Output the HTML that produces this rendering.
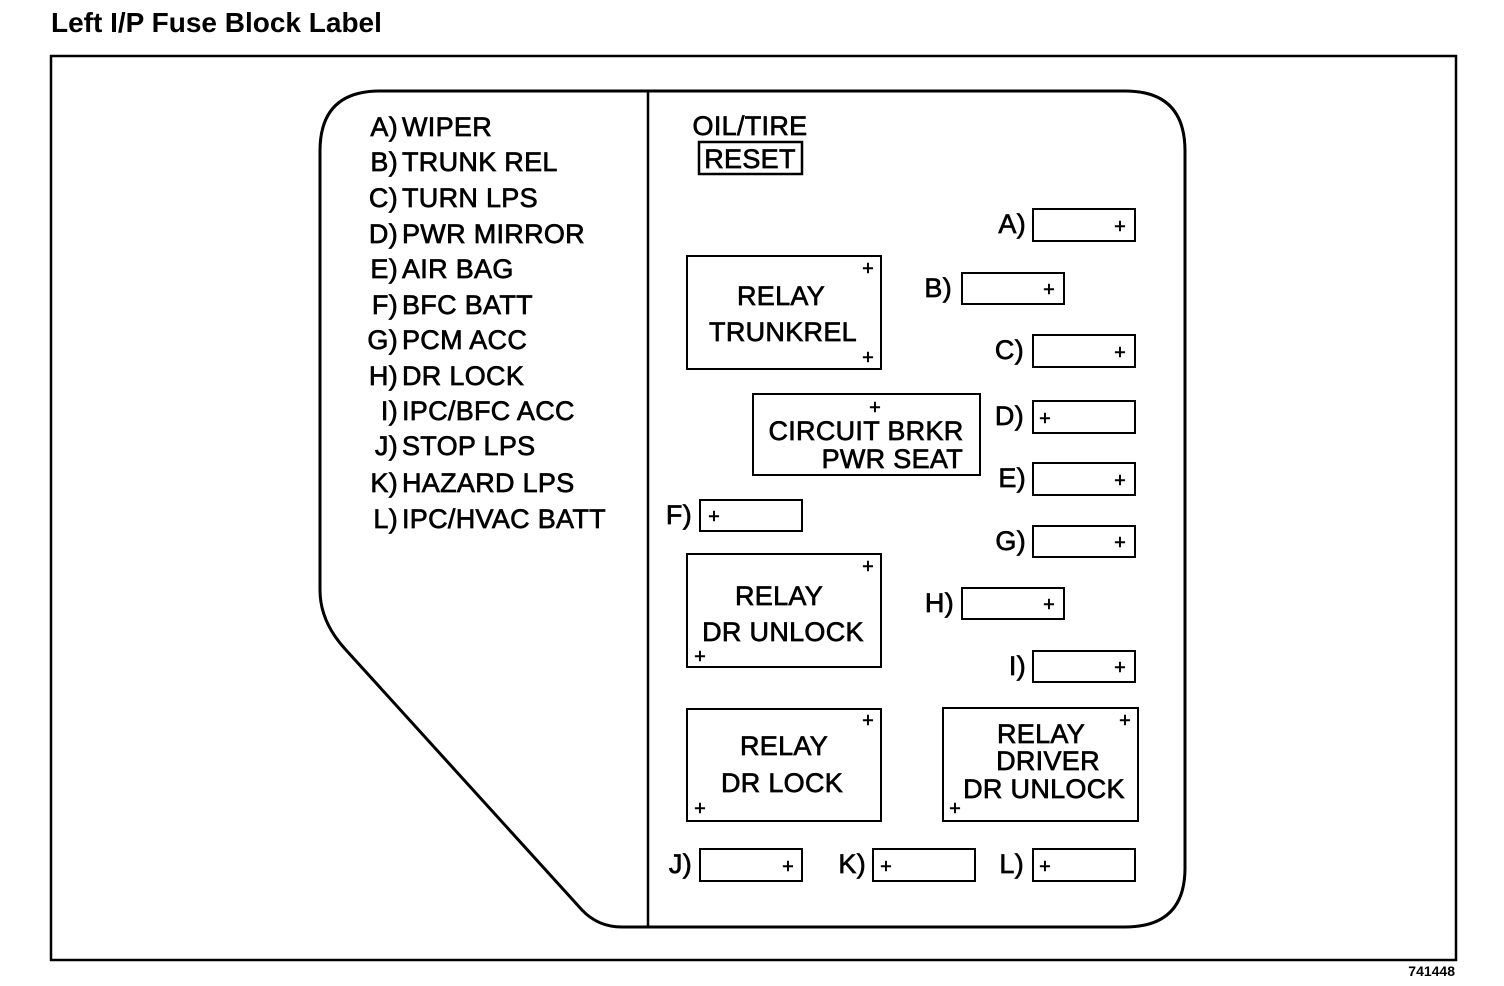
<!DOCTYPE html>
<html><head><meta charset="utf-8"><style>
html,body{margin:0;padding:0;background:#fff;}
svg{display:block;}
text{font-family:"Liberation Sans",Arial,sans-serif;fill:#000;}
.t{font-size:27px;stroke:#000;stroke-width:0.7px;letter-spacing:0.3px;}
.p{font-size:20px;stroke:#000;stroke-width:0.5px;}
</style></head><body>
<svg width="1504" height="986" viewBox="0 0 1504 986" xmlns="http://www.w3.org/2000/svg">
<text x="51" y="32" font-size="28" font-weight="bold">Left I/P Fuse Block Label</text>
<rect x="51" y="56" width="1405" height="904" fill="none" stroke="#000" stroke-width="2.5"/>
<path d="M380 91 L1125 91 Q1185 91 1185 151 L1185 868 Q1185 927 1125 927 L622 927 Q598 927 582 910 L346 650 Q320 622 320 590 L320 151 Q320 91 380 91 Z" fill="none" stroke="#000" stroke-width="3"/>
<line x1="648" y1="92" x2="648" y2="927" stroke="#000" stroke-width="2.5"/>
<g class="t" text-anchor="end">
<text x="398" y="136">A)</text><text x="398" y="171">B)</text><text x="398" y="207">C)</text><text x="398" y="243">D)</text><text x="398" y="278">E)</text><text x="398" y="314">F)</text><text x="398" y="349">G)</text><text x="398" y="385">H)</text><text x="398" y="420">I)</text><text x="398" y="455">J)</text><text x="398" y="492">K)</text><text x="398" y="528">L)</text>
</g>
<g class="t">
<text x="402" y="136">WIPER</text><text x="402" y="171">TRUNK REL</text><text x="402" y="207">TURN LPS</text><text x="402" y="243">PWR MIRROR</text><text x="402" y="278">AIR BAG</text><text x="402" y="314">BFC BATT</text><text x="402" y="349">PCM ACC</text><text x="402" y="385">DR LOCK</text><text x="402" y="420">IPC/BFC ACC</text><text x="402" y="455">STOP LPS</text><text x="402" y="492">HAZARD LPS</text><text x="402" y="528">IPC/HVAC BATT</text>
</g>
<text class="t" x="750" y="135" text-anchor="middle">OIL/TIRE</text>
<rect x="699" y="142" width="103" height="32" fill="none" stroke="#000" stroke-width="2.5"/>
<text class="t" x="750" y="168" text-anchor="middle">RESET</text>
<g fill="none" stroke="#000" stroke-width="2">
<rect x="1033" y="209" width="102" height="32"/>
<rect x="962" y="273" width="102" height="31"/>
<rect x="1033" y="335" width="102" height="32"/>
<rect x="1033" y="401" width="102" height="32"/>
<rect x="1033" y="463" width="102" height="32"/>
<rect x="1033" y="526" width="102" height="31"/>
<rect x="962" y="588" width="102" height="31"/>
<rect x="1033" y="651" width="102" height="31"/>
<rect x="700" y="500" width="102" height="31"/>
<rect x="700" y="849" width="102" height="32"/>
<rect x="873" y="849" width="102" height="32"/>
<rect x="1033" y="849" width="102" height="32"/>
<rect x="687" y="256" width="194" height="113"/>
<rect x="753" y="394" width="227" height="81"/>
<rect x="687" y="554" width="194" height="113"/>
<rect x="687" y="709" width="194" height="112"/>
<rect x="943" y="708" width="195" height="113"/>
</g>
<g class="p" text-anchor="middle">
<text x="1120" y="233">+</text><text x="1049" y="296">+</text><text x="1120" y="359">+</text><text x="1045" y="425">+</text><text x="1120" y="487">+</text><text x="1120" y="549">+</text><text x="1049" y="611">+</text><text x="1120" y="674">+</text>
<text x="714" y="523">+</text><text x="788" y="873">+</text><text x="886" y="873">+</text><text x="1045" y="873">+</text>
<text x="868" y="275">+</text><text x="868" y="364">+</text><text x="875" y="414">+</text>
<text x="868" y="573">+</text><text x="700" y="663">+</text>
<text x="868" y="727">+</text><text x="700" y="815">+</text>
<text x="1125" y="727">+</text><text x="955" y="815">+</text>
</g>
<g class="t" text-anchor="end">
<text x="1026" y="233">A)</text><text x="952" y="297">B)</text><text x="1024" y="359">C)</text><text x="1024" y="425">D)</text><text x="1026" y="487">E)</text><text x="692" y="524">F)</text><text x="1026" y="550">G)</text><text x="954" y="612">H)</text><text x="1026" y="675">I)</text><text x="692" y="873">J)</text><text x="866" y="873">K)</text><text x="1024" y="873">L)</text>
</g>
<g class="t" text-anchor="middle">
<text x="781" y="305">RELAY</text><text x="783" y="341">TRUNKREL</text>
<text x="866" y="440">CIRCUIT BRKR</text><text x="963" y="468" text-anchor="end">PWR SEAT</text>
<text x="779" y="605">RELAY</text><text x="783" y="641">DR UNLOCK</text>
<text x="784" y="755">RELAY</text><text x="782" y="792">DR LOCK</text>
<text x="1041" y="743">RELAY</text><text x="1048" y="770">DRIVER</text><text x="1044" y="798">DR UNLOCK</text>
</g>
<text x="1455" y="976" font-size="14" font-weight="bold" text-anchor="end">741448</text>
</svg>
</body></html>
